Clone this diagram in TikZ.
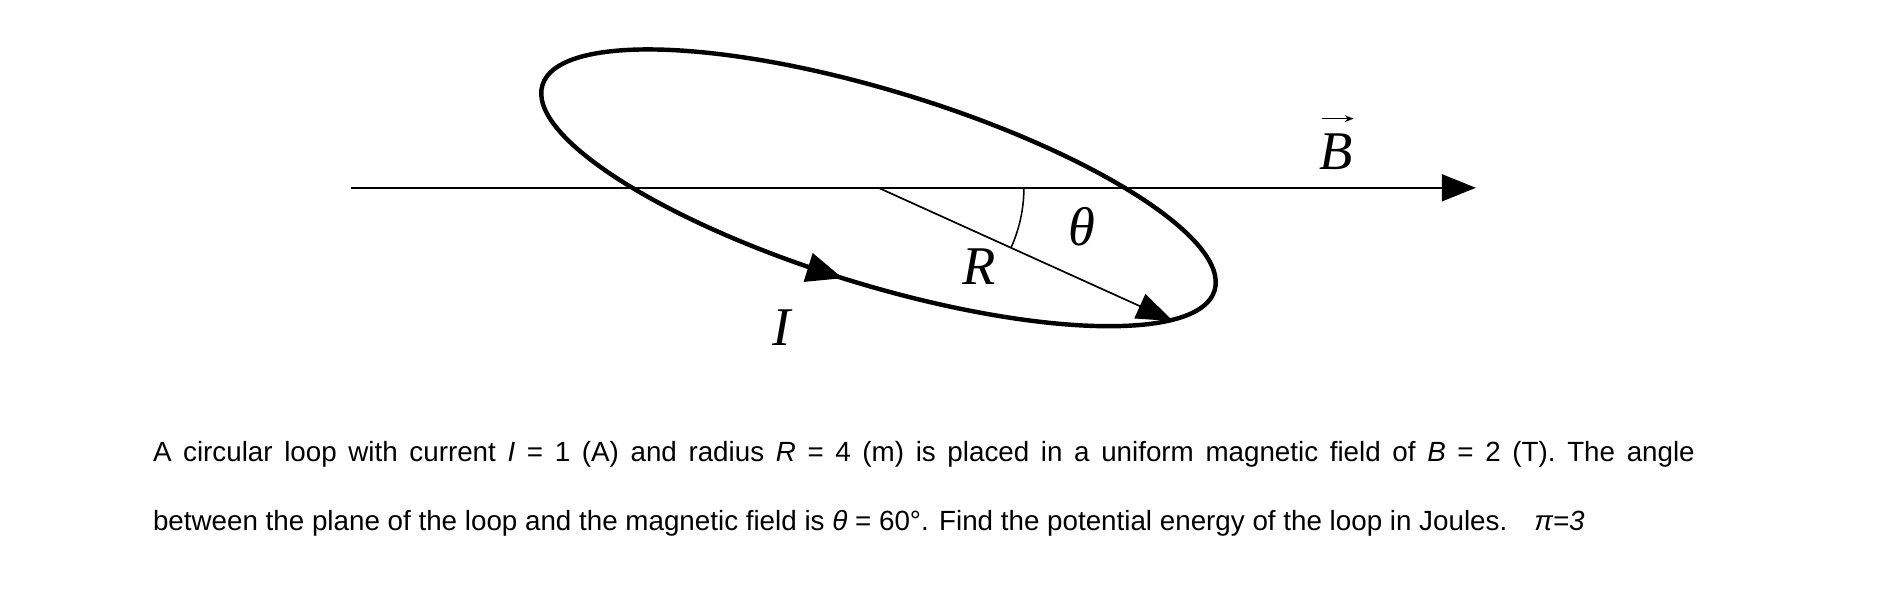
\documentclass[tikz,border=0pt]{standalone}
\usepackage{fontspec}
\setmainfont{Liberation Sans}
\newfontfamily\tms{Liberation Serif}
\usetikzlibrary{arrows.meta,decorations.markings,calc}
\begin{document}
\begin{tikzpicture}[x=0.025cm,y=0.025cm,
  lbl/.style={font=\tms\itshape\fontsize{32}{32}\selectfont,inner sep=0pt},
  txt/.style={font=\fontsize{16.3}{19}\selectfont,inner sep=0pt,anchor=base west}]
\useasboundingbox (0,0) rectangle (1568,495);
\coordinate (O) at (725,340);
\coordinate (E) at (1218,340);
\coordinate (S) at (290,340);
\draw[line width=1.4pt,-{Triangle[length=0.7cm,width=0.55cm]}] (S) -- (E);
\draw[line width=2.6pt,rotate around={-17:(O)},
  decoration={markings,mark=at position 0.745 with {\arrow{Triangle[length=0.75cm,width=0.6cm]}}},
  postaction={decorate}] (O) ellipse (290 and 80);
\coordinate (T) at (968,230);
\draw[line width=1pt,-{Triangle[length=0.75cm,width=0.55cm]}] (O) -- (T);
\draw[line width=0.9pt] ($(O)+(120,0)$) arc (0:-24:120);
\node[lbl] (th) at (893,308) {θ};
\node[lbl] (R) at (808,275) {R};
\node[lbl] (I) at (645,225) {I};
\node[lbl] (B) at (1103,370) {B};
\draw[line width=0.8pt,-{Stealth[length=0.18cm,width=0.14cm]}] ($(B.north west)+(2,12)$) -- ($(B.north east)+(0,12)$);
\node[txt] (l1) at (126,114) {\makebox[31.8cm][s]{A circular loop with current \textit{I} = 1 (A) and radius \textit{R} = 4 (m) is placed in a uniform magnetic field of \textit{B} = 2 (T). The angle}};
\node[txt] (l2) at (126,57) {between the plane of the loop and the magnetic field is \textit{θ} = 60°. Find the potential energy of the loop in Joules.\hspace{0.6em} \textit{π=3}};
\end{tikzpicture}
\end{document}
